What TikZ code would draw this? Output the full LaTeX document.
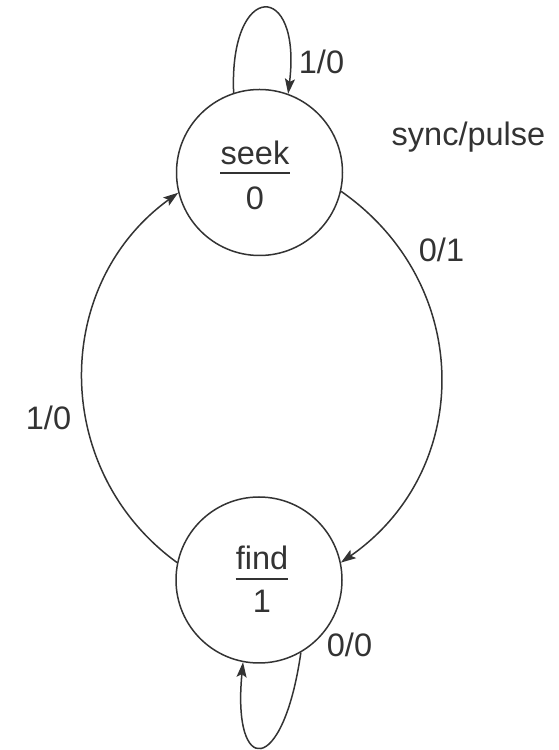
\documentclass[tikz,border=0pt]{standalone}
\usepackage{fontspec}
\setmainfont{Liberation Sans}
\usetikzlibrary{arrows.meta}
\definecolor{ink}{HTML}{333333}
\tikzset{
  state/.style={circle, draw=ink, line width=1.5pt, minimum size=166pt, inner sep=0pt},
  txt/.style={inner sep=0pt, anchor=base, text=ink, font=\fontsize{32.5}{38}\selectfont},
  edge/.style={draw=ink, line width=1.5pt},
  tip/.style={-{Stealth[length=15pt,width=10pt,inset=3pt]}},
  divider/.style={draw=ink, line width=2pt}
}
\begin{document}
\begin{tikzpicture}[x=1pt,y=1pt]
\useasboundingbox (0,0) rectangle (559,750);
% states
\node[state] (seek) at (259.5,577.5) {};
\node[state] (find) at (259,170) {};
% state texts
\node[txt] (seekname) at (255,585) {seek};
\node[txt] (seekout) at (255,540) {0};
\draw[divider] ([yshift=-8pt]seekname.base west) -- ([yshift=-8pt]seekname.base east);
\node[txt] (findname) at (262,180) {find};
\node[txt] (findout) at (262,137) {1};
\draw[divider] ([yshift=-9pt]findname.base west) -- ([yshift=-9pt]findname.base east);
% transitions
\draw[edge,tip] (seek.108) .. controls (229,770) and (302,770) .. (seek.70);
\draw[edge,tip] (seek.-13) .. controls (474,466) and (474,280) .. (find.12);
\draw[edge,tip] (find.168) .. controls (51,279) and (51,465) .. (seek.194);
\draw[edge,tip] (find.-60) .. controls (283,-27) and (232,-27) .. (find.-101);
% labels
\node[txt] (l1) at (321.5,676) {1/0};
\node[txt] (legend) at (468.5,604) {sync/pulse};
\node[txt] (l2) at (441.5,488) {0/1};
\node[txt] (l3) at (48.5,320) {1/0};
\node[txt] (l4) at (349.5,93) {0/0};
\end{tikzpicture}
\end{document}
